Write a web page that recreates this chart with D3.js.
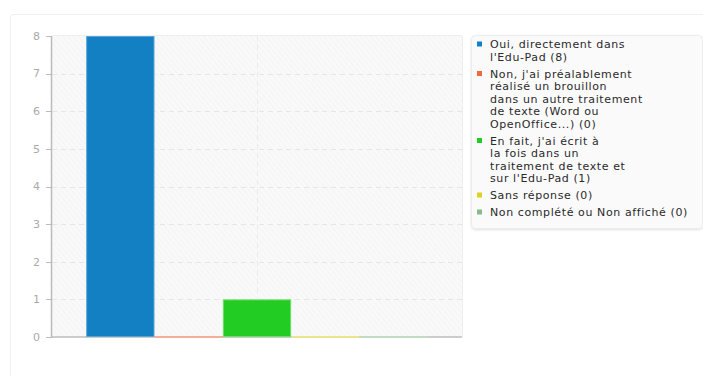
<!DOCTYPE html>
<html>
<head>
<meta charset="utf-8">
<script src="https://cdn.jsdelivr.net/npm/d3@7"></script>
<style>
body { margin: 0; background: #fff; }
svg { display: block; font-family: "DejaVu Sans", sans-serif; }
</style>
</head>
<body>
<div id="chart"></div>
<script>
// one line per entry in each label, as in the legend
var labels = [
  ["Oui, directement dans", "l'Edu-Pad (8)"],
  ["Non, j'ai préalablement", "réalisé un brouillon", "dans un autre traitement", "de texte (Word ou", "OpenOffice...) (0)"],
  ["En fait, j'ai écrit à", "la fois dans un", "traitement de texte et", "sur l'Edu-Pad (1)"],
  ["Sans réponse (0)"],
  ["Non complété ou Non affiché (0)"]
]
var values = [8, 0, 1, 0, 0]
var colors = ["#1380c4", "#f0693c", "#22cc22", "#dcd223", "#88bb88"]
var lightColors = ["#5aa6d8", "#f5ae98", "#6adf6a", "#eae58a", "#c3dcc3"]
var yTicks = [0, 1, 2, 3, 4, 5, 6, 7, 8]

var W = 703, H = 376
var px0 = 52, px1 = 462, py0 = 36, py1 = 337

var svg = d3.select("#chart").append("svg")
    .attr("width", W)
    .attr("height", H)

// hatch for plot background
var defs = svg.append("defs")
var pat = defs.append("pattern")
    .attr("id", "hatch")
    .attr("width", 4)
    .attr("height", 4)
    .attr("patternUnits", "userSpaceOnUse")
    .attr("patternTransform", "rotate(-40)")
pat.append("rect").attr("width", 4).attr("height", 4).attr("fill", "#f9f9f9")
pat.append("line").attr("x1", 0).attr("y1", 0).attr("x2", 0).attr("y2", 4)
    .attr("stroke", "#efefef").attr("stroke-width", 1)

var shadow = defs.append("filter").attr("id", "sh").attr("x", "-5%").attr("y", "-5%").attr("width", "110%").attr("height", "115%")
shadow.append("feDropShadow").attr("dx", 0).attr("dy", 1).attr("stdDeviation", 1)
    .attr("flood-color", "#000").attr("flood-opacity", 0.12)

// outer panel
svg.append("rect")
    .attr("x", 10.5).attr("y", 14.5)
    .attr("width", W).attr("height", H)
    .attr("rx", 3)
    .attr("fill", "#fff")
    .attr("stroke", "#eeeeee")

var x = d3.scaleBand()
    .domain(d3.range(values.length))
    .range([px0, px1])
    .paddingInner(0)
    .paddingOuter(0.5)

var y = d3.scaleLinear()
    .domain([0, 8])
    .range([py1, py0])

// plot background
svg.append("rect")
    .attr("x", px0).attr("y", py0)
    .attr("width", px1 - px0).attr("height", py1 - py0)
    .attr("fill", "url(#hatch)")
svg.append("line")
    .attr("x1", px0).attr("x2", px1).attr("y1", py0 - 0.5).attr("y2", py0 - 0.5)
    .attr("stroke", "#eeeeee")
svg.append("line")
    .attr("x1", px1 + 0.5).attr("x2", px1 + 0.5).attr("y1", py0).attr("y2", py1)
    .attr("stroke", "#eeeeee")

// grid
svg.append("g").selectAll("line").data(yTicks.filter(function(d){ return d > 0 && d < 8 }))
    .enter().append("line")
    .attr("x1", px0).attr("x2", px1)
    .attr("y1", function(d){ return Math.round(y(d)) + 0.5 })
    .attr("y2", function(d){ return Math.round(y(d)) + 0.5 })
    .attr("stroke", "#e6e6e6")
    .attr("stroke-dasharray", "5,4")

svg.append("line")
    .attr("x1", (px0 + px1) / 2 + 0.5).attr("x2", (px0 + px1) / 2 + 0.5)
    .attr("y1", py0).attr("y2", py1)
    .attr("stroke", "#ebebeb")
    .attr("stroke-dasharray", "5,4")

// baseline
svg.append("line")
    .attr("x1", px0).attr("x2", px1).attr("y1", py1).attr("y2", py1)
    .attr("stroke", "#cccccc").attr("stroke-width", 2)

// bars
svg.append("g").selectAll("rect").data(values)
    .enter().append("rect")
    .attr("x", function(d, i){ return x(i) + 0.5 })
    .attr("y", function(d){ return y(d) + 0.5 })
    .attr("width", x.bandwidth() - 1)
    .attr("height", function(d){ return Math.max(0, y(0) - y(d) - 1) })
    .attr("fill", function(d, i){ return colors[i] })
    .attr("stroke", function(d, i){ return lightColors[i] })
    .attr("stroke-width", 1)

// zero-height bars show only as a tinted line on the baseline
values.forEach(function(v, i){
    if (v == 0) {
        svg.append("line")
            .attr("x1", x(i)).attr("x2", x(i) + x.bandwidth())
            .attr("y1", py1).attr("y2", py1)
            .attr("stroke", lightColors[i]).attr("stroke-width", 2)
    }
})

// y axis
svg.append("line")
    .attr("x1", px0 - 0.5).attr("x2", px0 - 0.5).attr("y1", py0).attr("y2", py1 + 1)
    .attr("stroke", "#bbbbbb").attr("stroke-width", 1.5)

var yt = svg.append("g").selectAll("g").data(yTicks).enter().append("g")
yt.append("line")
    .attr("x1", px0 - 6).attr("x2", px0 - 1)
    .attr("y1", function(d){ return Math.round(y(d)) + 0.5 })
    .attr("y2", function(d){ return Math.round(y(d)) + 0.5 })
    .attr("stroke", "#bbbbbb")
yt.append("text")
    .attr("x", px0 - 12)
    .attr("y", function(d){ return y(d) })
    .attr("dy", "0.35em")
    .attr("text-anchor", "end")
    .style("font-size", "11px")
    .attr("fill", "#aaaaaa")
    .text(function(d){ return d })

// legend
var lx = 471, ly = 35, lw = 231, lh = 193
svg.append("rect")
    .attr("x", lx + 0.5).attr("y", ly + 0.5)
    .attr("width", lw).attr("height", lh)
    .attr("rx", 4)
    .attr("fill", "#fafafa")
    .attr("stroke", "#ececec")
    .attr("filter", "url(#sh)")

var lineH = 12.5, gap = 4.5
var cy = 44.5
labels.forEach(function(lines, i){
    svg.append("rect")
        .attr("x", 477).attr("y", cy - 3)
        .attr("width", 5).attr("height", 5)
        .attr("fill", colors[i])
    var t = svg.append("text")
        .attr("x", 490)
        .attr("y", cy)
        .style("font-size", "11px")
        .style("letter-spacing", "0.6px")
        .attr("fill", "#2a2a2a")
    lines.forEach(function(s, j){
        t.append("tspan").attr("x", 490).attr("y", cy + j * lineH).attr("dy", "0.35em").text(s)
    })
    cy += lines.length * lineH + gap
})
</script>
</body>
</html>
